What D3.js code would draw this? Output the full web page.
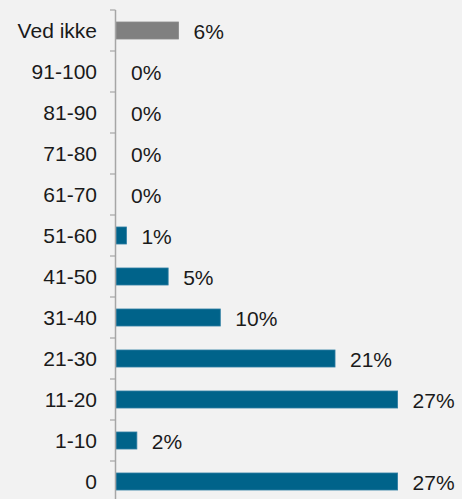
<!DOCTYPE html>
<html>
<head>
<meta charset="utf-8">
<script src="https://cdn.jsdelivr.net/npm/d3@7"></script>
<style>
  html, body { margin: 0; padding: 0; background: #f2f2f2; }
  svg { display: block; font-family: "Liberation Sans", Arial, sans-serif; }
</style>
</head>
<body>
<div id="chart"></div>
<script>
var categories = ['Ved ikke', '91-100', '81-90', '71-80', '61-70', '51-60', '41-50', '31-40', '21-30', '11-20', '1-10', '0'];
var values = [6, 0, 0, 0, 0, 1, 5, 10, 21, 27, 2, 27];
var valueLabels = ['6%', '0%', '0%', '0%', '0%', '1%', '5%', '10%', '21%', '27%', '2%', '27%'];

var width = 462, height = 499;

var svg = d3.select('#chart').append('svg')
    .attr('width', width)
    .attr('height', height);

svg.append('rect')
    .attr('width', width)
    .attr('height', height)
    .attr('fill', '#f2f2f2');

var y = d3.scaleBand()
    .domain(categories)
    .range([10, 502])
    .paddingInner(0.585)
    .paddingOuter(0.2925);

var x = d3.scaleLinear()
    .domain([0, 27])
    .range([116, 397.6]);

var rows = categories.map(function(c, i) {
  return { cat: c, value: values[i], label: valueLabels[i], unknown: c === 'Ved ikke' };
});

// bars
svg.selectAll('.bar')
    .data(rows.filter(function(d) { return d.value > 0; }))
    .enter()
    .append('rect')
      .attr('class', 'bar')
      .attr('x', x(0))
      .attr('y', function(d) { return y(d.cat); })
      .attr('width', function(d) { return x(d.value) - x(0); })
      .attr('height', y.bandwidth())
      .attr('fill', function(d) { return d.unknown ? '#808080' : '#00638a'; })
      .attr('stroke', function(d) { return d.unknown ? '#8a8a8a' : '#2f7ea3'; })
      .attr('stroke-width', 0.8);

// value labels
svg.selectAll('.val')
    .data(rows)
    .enter()
    .append('text')
      .attr('class', 'val')
      .attr('x', function(d) { return x(d.value) + 15; })
      .attr('y', function(d) { return y(d.cat) + y.bandwidth() / 2 + 1; })
      .attr('dy', '0.36em')
      .attr('font-size', 21)
      .attr('fill', '#1a1a1a')
      .text(function(d) { return d.label; });

// category labels
svg.selectAll('.cat')
    .data(categories)
    .enter()
    .append('text')
      .attr('class', 'cat')
      .attr('x', 97)
      .attr('y', function(d) { return y(d) + y.bandwidth() / 2; })
      .attr('dy', '0.36em')
      .attr('text-anchor', 'end')
      .attr('font-size', 21)
      .attr('fill', '#1a1a1a')
      .text(function(d) { return d; });

// axis line and ticks at band boundaries
var boundaries = categories.map(function(d) { return y(d) + y.bandwidth() / 2 - y.step() / 2; });
boundaries.push(boundaries[boundaries.length - 1] + y.step());

svg.append('line')
    .attr('x1', x(0) - 0.5).attr('x2', x(0) - 0.5)
    .attr('y1', boundaries[0]).attr('y2', height + 5)
    .attr('stroke', '#a6a6a6')
    .attr('stroke-width', 1.5);

svg.selectAll('.tick')
    .data(boundaries)
    .enter()
    .append('line')
      .attr('class', 'tick')
      .attr('x1', x(0) - 6).attr('x2', x(0) - 0.5)
      .attr('y1', function(d) { return d; })
      .attr('y2', function(d) { return d; })
      .attr('stroke', '#a6a6a6')
      .attr('stroke-width', 1.2);
</script>
</body>
</html>
